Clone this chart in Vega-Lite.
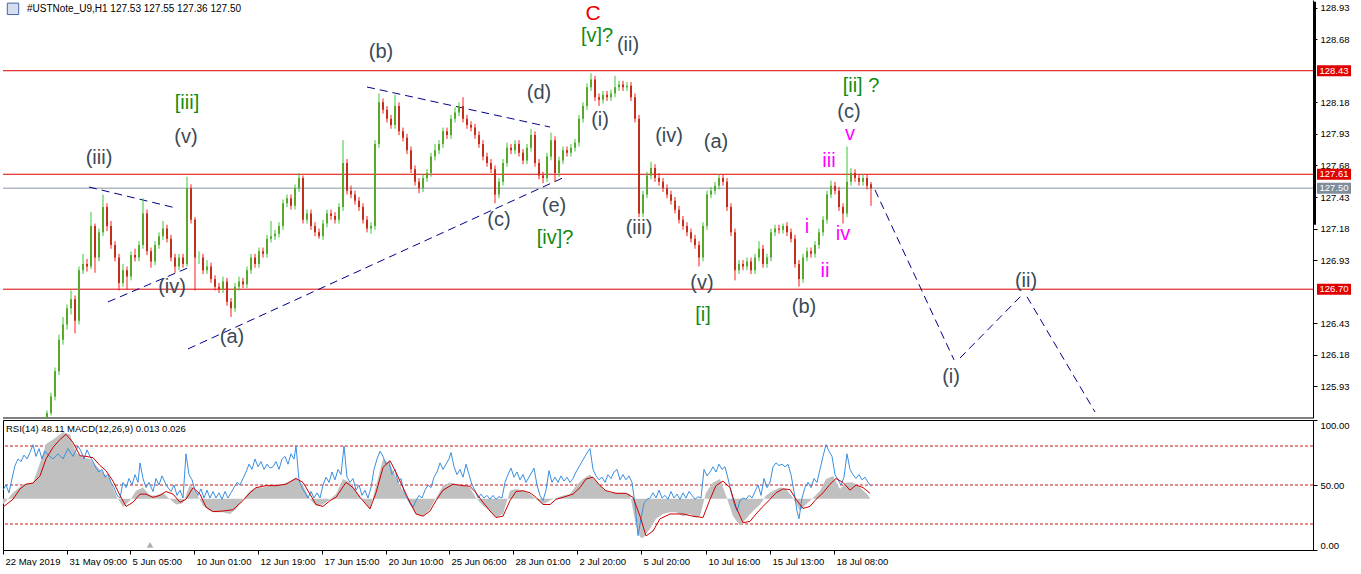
{
"$schema": "https://vega.github.io/schema/vega-lite/v6.json",
"padding": 0,
"background": "white",
"spacing": 0,
"config": {"font": "Liberation Sans", "view": {"stroke": null}, "axis": {"labelFont": "Liberation Sans", "labelFontSize": 9.5, "labelColor": "black", "domainColor": "black", "tickColor": "black", "grid": false, "title": null}},
"resolve": {"scale": {"x": "independent", "y": "independent"}},
"datasets": {
"levels": [{"p":128.43,"k":"r"},{"p":127.61,"k":"r"},{"p":126.70,"k":"r"},{"p":127.50,"k":"g"}],
"trend": [
{"b1":86,"p1":127.509,"b2":173,"p2":127.343},
{"b1":105,"p1":126.599,"b2":187,"p2":126.876},
{"b1":185,"p1":126.227,"b2":562,"p2":127.589},
{"b1":364,"p1":128.301,"b2":547,"p2":127.984},
{"b1":872,"p1":127.486,"b2":951,"p2":126.140},
{"b1":957,"p1":126.155,"b2":1018,"p2":126.646},
{"b1":1024,"p1":126.640,"b2":1092,"p2":125.728}
],
"candles": [
{"b":44,"o":125.68,"h":125.74,"l":125.68,"c":125.72},
{"b":48,"o":125.72,"h":125.88,"l":125.70,"c":125.85},
{"b":52,"o":125.85,"h":126.08,"l":125.82,"c":126.05},
{"b":56,"o":126.05,"h":126.34,"l":126.02,"c":126.30},
{"b":60,"o":126.30,"h":126.48,"l":126.26,"c":126.42},
{"b":64,"o":126.42,"h":126.58,"l":126.38,"c":126.55},
{"b":68,"o":126.55,"h":126.69,"l":126.50,"c":126.62},
{"b":72,"o":126.62,"h":126.65,"l":126.35,"c":126.45},
{"b":76,"o":126.45,"h":126.88,"l":126.42,"c":126.85},
{"b":80,"o":126.85,"h":126.98,"l":126.82,"c":126.90},
{"b":84,"o":126.90,"h":126.94,"l":126.84,"c":126.88},
{"b":88,"o":126.88,"h":127.31,"l":126.86,"c":127.20},
{"b":92,"o":127.20,"h":127.22,"l":126.83,"c":126.95},
{"b":96,"o":126.95,"h":127.18,"l":126.92,"c":127.15},
{"b":100,"o":127.15,"h":127.45,"l":127.12,"c":127.35},
{"b":104,"o":127.35,"h":127.38,"l":127.16,"c":127.20},
{"b":108,"o":127.20,"h":127.24,"l":127.02,"c":127.05},
{"b":112,"o":127.05,"h":127.08,"l":126.92,"c":126.95},
{"b":116,"o":126.95,"h":126.98,"l":126.69,"c":126.75},
{"b":120,"o":126.75,"h":126.90,"l":126.72,"c":126.85},
{"b":124,"o":126.85,"h":126.88,"l":126.70,"c":126.80},
{"b":128,"o":126.80,"h":127.00,"l":126.77,"c":126.97},
{"b":132,"o":126.97,"h":127.02,"l":126.92,"c":126.95},
{"b":136,"o":126.95,"h":127.08,"l":126.92,"c":127.05},
{"b":140,"o":127.05,"h":127.42,"l":127.02,"c":127.30},
{"b":144,"o":127.30,"h":127.33,"l":126.97,"c":127.00},
{"b":148,"o":127.00,"h":127.03,"l":126.87,"c":126.92},
{"b":152,"o":126.92,"h":127.08,"l":126.89,"c":127.05},
{"b":156,"o":127.05,"h":127.15,"l":127.02,"c":127.12},
{"b":160,"o":127.12,"h":127.24,"l":127.09,"c":127.18},
{"b":164,"o":127.18,"h":127.21,"l":127.07,"c":127.10},
{"b":168,"o":127.10,"h":127.13,"l":126.92,"c":126.95},
{"b":172,"o":126.95,"h":126.98,"l":126.83,"c":126.88},
{"b":176,"o":126.88,"h":126.98,"l":126.85,"c":126.95},
{"b":180,"o":126.95,"h":126.98,"l":126.87,"c":126.90},
{"b":184,"o":126.90,"h":127.59,"l":126.88,"c":127.50},
{"b":188,"o":127.50,"h":127.53,"l":127.22,"c":127.25},
{"b":192,"o":127.25,"h":127.27,"l":126.69,"c":126.95},
{"b":196,"o":126.95,"h":127.00,"l":126.90,"c":126.95},
{"b":200,"o":126.95,"h":126.98,"l":126.82,"c":126.85},
{"b":204,"o":126.85,"h":126.93,"l":126.82,"c":126.88},
{"b":208,"o":126.88,"h":126.91,"l":126.75,"c":126.78},
{"b":212,"o":126.78,"h":126.81,"l":126.69,"c":126.72},
{"b":216,"o":126.72,"h":126.75,"l":126.67,"c":126.70},
{"b":220,"o":126.70,"h":126.80,"l":126.67,"c":126.76},
{"b":224,"o":126.76,"h":126.79,"l":126.57,"c":126.60},
{"b":228,"o":126.60,"h":126.63,"l":126.48,"c":126.55},
{"b":232,"o":126.55,"h":126.75,"l":126.52,"c":126.72},
{"b":236,"o":126.72,"h":126.80,"l":126.69,"c":126.76},
{"b":240,"o":126.76,"h":126.79,"l":126.71,"c":126.74},
{"b":244,"o":126.74,"h":126.88,"l":126.71,"c":126.85},
{"b":248,"o":126.85,"h":126.98,"l":126.82,"c":126.95},
{"b":252,"o":126.95,"h":126.98,"l":126.87,"c":126.90},
{"b":256,"o":126.90,"h":127.03,"l":126.87,"c":127.00},
{"b":260,"o":127.00,"h":127.03,"l":126.95,"c":126.98},
{"b":264,"o":126.98,"h":127.13,"l":126.95,"c":127.10},
{"b":268,"o":127.10,"h":127.24,"l":127.07,"c":127.12},
{"b":272,"o":127.12,"h":127.17,"l":127.09,"c":127.14},
{"b":276,"o":127.14,"h":127.23,"l":127.11,"c":127.20},
{"b":280,"o":127.20,"h":127.41,"l":127.17,"c":127.38},
{"b":284,"o":127.38,"h":127.45,"l":127.35,"c":127.42},
{"b":288,"o":127.42,"h":127.45,"l":127.33,"c":127.36},
{"b":292,"o":127.36,"h":127.53,"l":127.33,"c":127.50},
{"b":296,"o":127.50,"h":127.62,"l":127.47,"c":127.58},
{"b":300,"o":127.58,"h":127.60,"l":127.22,"c":127.25},
{"b":304,"o":127.25,"h":127.33,"l":127.22,"c":127.30},
{"b":308,"o":127.30,"h":127.33,"l":127.17,"c":127.20},
{"b":312,"o":127.20,"h":127.23,"l":127.12,"c":127.15},
{"b":316,"o":127.15,"h":127.18,"l":127.10,"c":127.12},
{"b":320,"o":127.12,"h":127.25,"l":127.09,"c":127.22},
{"b":324,"o":127.22,"h":127.33,"l":127.19,"c":127.30},
{"b":328,"o":127.30,"h":127.33,"l":127.25,"c":127.28},
{"b":332,"o":127.28,"h":127.31,"l":127.22,"c":127.25},
{"b":336,"o":127.25,"h":127.38,"l":127.22,"c":127.35},
{"b":340,"o":127.35,"h":127.88,"l":127.32,"c":127.70},
{"b":344,"o":127.70,"h":127.73,"l":127.45,"c":127.48},
{"b":348,"o":127.48,"h":127.52,"l":127.42,"c":127.45},
{"b":352,"o":127.45,"h":127.48,"l":127.37,"c":127.40},
{"b":356,"o":127.40,"h":127.43,"l":127.32,"c":127.35},
{"b":360,"o":127.35,"h":127.38,"l":127.22,"c":127.25},
{"b":364,"o":127.25,"h":127.28,"l":127.15,"c":127.18},
{"b":368,"o":127.18,"h":127.23,"l":127.14,"c":127.20},
{"b":372,"o":127.20,"h":127.88,"l":127.17,"c":127.85},
{"b":376,"o":127.85,"h":128.25,"l":127.82,"c":128.18},
{"b":380,"o":128.18,"h":128.21,"l":128.09,"c":128.12},
{"b":384,"o":128.12,"h":128.15,"l":128.02,"c":128.05},
{"b":388,"o":128.05,"h":128.08,"l":127.97,"c":128.00},
{"b":392,"o":128.00,"h":128.24,"l":127.97,"c":128.15},
{"b":396,"o":128.15,"h":128.18,"l":127.92,"c":127.95},
{"b":400,"o":127.95,"h":127.98,"l":127.87,"c":127.90},
{"b":404,"o":127.90,"h":127.93,"l":127.77,"c":127.80},
{"b":408,"o":127.80,"h":127.83,"l":127.62,"c":127.65},
{"b":412,"o":127.65,"h":127.68,"l":127.52,"c":127.55},
{"b":416,"o":127.55,"h":127.58,"l":127.46,"c":127.50},
{"b":420,"o":127.50,"h":127.61,"l":127.47,"c":127.58},
{"b":424,"o":127.58,"h":127.65,"l":127.55,"c":127.62},
{"b":428,"o":127.62,"h":127.78,"l":127.59,"c":127.75},
{"b":432,"o":127.75,"h":127.85,"l":127.72,"c":127.80},
{"b":436,"o":127.80,"h":127.88,"l":127.77,"c":127.85},
{"b":440,"o":127.85,"h":127.98,"l":127.82,"c":127.95},
{"b":444,"o":127.95,"h":127.98,"l":127.89,"c":127.92},
{"b":448,"o":127.92,"h":128.08,"l":127.89,"c":128.05},
{"b":452,"o":128.05,"h":128.14,"l":128.02,"c":128.10},
{"b":456,"o":128.10,"h":128.18,"l":128.07,"c":128.15},
{"b":460,"o":128.15,"h":128.22,"l":128.02,"c":128.05},
{"b":464,"o":128.05,"h":128.08,"l":127.97,"c":128.00},
{"b":468,"o":128.00,"h":128.03,"l":127.95,"c":127.98},
{"b":472,"o":127.98,"h":128.01,"l":127.89,"c":127.92},
{"b":476,"o":127.92,"h":127.95,"l":127.82,"c":127.85},
{"b":480,"o":127.85,"h":127.88,"l":127.72,"c":127.75},
{"b":484,"o":127.75,"h":127.78,"l":127.67,"c":127.70},
{"b":488,"o":127.70,"h":127.73,"l":127.62,"c":127.65},
{"b":492,"o":127.65,"h":127.68,"l":127.38,"c":127.45},
{"b":496,"o":127.45,"h":127.58,"l":127.42,"c":127.55},
{"b":500,"o":127.55,"h":127.73,"l":127.52,"c":127.70},
{"b":504,"o":127.70,"h":127.86,"l":127.67,"c":127.82},
{"b":508,"o":127.82,"h":127.85,"l":127.77,"c":127.80},
{"b":512,"o":127.80,"h":127.88,"l":127.77,"c":127.85},
{"b":516,"o":127.85,"h":127.88,"l":127.75,"c":127.78},
{"b":520,"o":127.78,"h":127.81,"l":127.69,"c":127.72},
{"b":524,"o":127.72,"h":127.85,"l":127.69,"c":127.82},
{"b":528,"o":127.82,"h":127.97,"l":127.79,"c":127.92},
{"b":532,"o":127.92,"h":127.95,"l":127.67,"c":127.70},
{"b":536,"o":127.70,"h":127.73,"l":127.57,"c":127.60},
{"b":540,"o":127.60,"h":127.63,"l":127.54,"c":127.58},
{"b":544,"o":127.58,"h":127.78,"l":127.55,"c":127.75},
{"b":548,"o":127.75,"h":127.94,"l":127.72,"c":127.88},
{"b":552,"o":127.88,"h":127.91,"l":127.55,"c":127.62},
{"b":556,"o":127.62,"h":127.75,"l":127.59,"c":127.72},
{"b":560,"o":127.72,"h":127.83,"l":127.69,"c":127.80},
{"b":564,"o":127.80,"h":127.83,"l":127.75,"c":127.78},
{"b":568,"o":127.78,"h":127.85,"l":127.75,"c":127.82},
{"b":572,"o":127.82,"h":127.89,"l":127.79,"c":127.86},
{"b":576,"o":127.86,"h":128.08,"l":127.83,"c":128.05},
{"b":580,"o":128.05,"h":128.18,"l":128.02,"c":128.15},
{"b":584,"o":128.15,"h":128.33,"l":128.12,"c":128.30},
{"b":588,"o":128.30,"h":128.41,"l":128.27,"c":128.36},
{"b":592,"o":128.36,"h":128.39,"l":128.19,"c":128.22},
{"b":596,"o":128.22,"h":128.25,"l":128.15,"c":128.20},
{"b":600,"o":128.20,"h":128.27,"l":128.17,"c":128.24},
{"b":604,"o":128.24,"h":128.27,"l":128.19,"c":128.22},
{"b":608,"o":128.22,"h":128.28,"l":128.19,"c":128.25},
{"b":612,"o":128.25,"h":128.39,"l":128.22,"c":128.30},
{"b":616,"o":128.30,"h":128.35,"l":128.27,"c":128.32},
{"b":620,"o":128.32,"h":128.35,"l":128.27,"c":128.30},
{"b":624,"o":128.30,"h":128.34,"l":128.27,"c":128.31},
{"b":628,"o":128.31,"h":128.34,"l":128.19,"c":128.22},
{"b":632,"o":128.22,"h":128.25,"l":128.02,"c":128.05},
{"b":636,"o":128.05,"h":128.08,"l":127.27,"c":127.30},
{"b":640,"o":127.30,"h":127.48,"l":127.27,"c":127.45},
{"b":644,"o":127.45,"h":127.63,"l":127.42,"c":127.60},
{"b":648,"o":127.60,"h":127.71,"l":127.57,"c":127.66},
{"b":652,"o":127.66,"h":127.69,"l":127.55,"c":127.58},
{"b":656,"o":127.58,"h":127.62,"l":127.52,"c":127.55},
{"b":660,"o":127.55,"h":127.58,"l":127.47,"c":127.50},
{"b":664,"o":127.50,"h":127.53,"l":127.42,"c":127.45},
{"b":668,"o":127.45,"h":127.48,"l":127.37,"c":127.40},
{"b":672,"o":127.40,"h":127.43,"l":127.30,"c":127.33},
{"b":676,"o":127.33,"h":127.36,"l":127.22,"c":127.25},
{"b":680,"o":127.25,"h":127.28,"l":127.17,"c":127.20},
{"b":684,"o":127.20,"h":127.23,"l":127.12,"c":127.15},
{"b":688,"o":127.15,"h":127.18,"l":127.07,"c":127.10},
{"b":692,"o":127.10,"h":127.13,"l":127.02,"c":127.05},
{"b":696,"o":127.05,"h":127.08,"l":126.88,"c":126.95},
{"b":700,"o":126.95,"h":127.23,"l":126.92,"c":127.20},
{"b":704,"o":127.20,"h":127.48,"l":127.17,"c":127.45},
{"b":708,"o":127.45,"h":127.51,"l":127.42,"c":127.48},
{"b":712,"o":127.48,"h":127.55,"l":127.45,"c":127.52},
{"b":716,"o":127.52,"h":127.61,"l":127.49,"c":127.58},
{"b":720,"o":127.58,"h":127.61,"l":127.52,"c":127.55},
{"b":724,"o":127.55,"h":127.58,"l":127.32,"c":127.35},
{"b":728,"o":127.35,"h":127.38,"l":127.12,"c":127.15},
{"b":732,"o":127.15,"h":127.18,"l":126.77,"c":126.85},
{"b":736,"o":126.85,"h":126.93,"l":126.82,"c":126.90},
{"b":740,"o":126.90,"h":126.93,"l":126.85,"c":126.88},
{"b":744,"o":126.88,"h":126.95,"l":126.85,"c":126.92},
{"b":748,"o":126.92,"h":126.95,"l":126.82,"c":126.85},
{"b":752,"o":126.85,"h":126.98,"l":126.82,"c":126.95},
{"b":756,"o":126.95,"h":127.08,"l":126.92,"c":127.02},
{"b":760,"o":127.02,"h":127.05,"l":126.87,"c":126.90},
{"b":764,"o":126.90,"h":126.98,"l":126.87,"c":126.95},
{"b":768,"o":126.95,"h":127.18,"l":126.92,"c":127.15},
{"b":772,"o":127.15,"h":127.21,"l":127.12,"c":127.18},
{"b":776,"o":127.18,"h":127.21,"l":127.14,"c":127.17},
{"b":780,"o":127.17,"h":127.22,"l":127.14,"c":127.20},
{"b":784,"o":127.20,"h":127.23,"l":127.12,"c":127.15},
{"b":788,"o":127.15,"h":127.18,"l":127.07,"c":127.10},
{"b":792,"o":127.10,"h":127.13,"l":126.87,"c":126.90},
{"b":796,"o":126.90,"h":126.93,"l":126.72,"c":126.78},
{"b":800,"o":126.78,"h":126.98,"l":126.75,"c":126.95},
{"b":804,"o":126.95,"h":127.03,"l":126.92,"c":127.00},
{"b":808,"o":127.00,"h":127.03,"l":126.95,"c":126.98},
{"b":812,"o":126.98,"h":127.08,"l":126.95,"c":127.05},
{"b":816,"o":127.05,"h":127.18,"l":127.02,"c":127.15},
{"b":820,"o":127.15,"h":127.28,"l":127.12,"c":127.25},
{"b":824,"o":127.25,"h":127.48,"l":127.22,"c":127.45},
{"b":828,"o":127.45,"h":127.56,"l":127.42,"c":127.52},
{"b":832,"o":127.52,"h":127.55,"l":127.45,"c":127.48},
{"b":836,"o":127.48,"h":127.51,"l":127.32,"c":127.35},
{"b":840,"o":127.35,"h":127.38,"l":127.22,"c":127.30},
{"b":844,"o":127.30,"h":127.83,"l":127.27,"c":127.55},
{"b":848,"o":127.55,"h":127.66,"l":127.52,"c":127.62},
{"b":852,"o":127.62,"h":127.65,"l":127.55,"c":127.58},
{"b":856,"o":127.58,"h":127.61,"l":127.52,"c":127.55},
{"b":860,"o":127.55,"h":127.61,"l":127.52,"c":127.58},
{"b":864,"o":127.58,"h":127.61,"l":127.49,"c":127.52},
{"b":868,"o":127.53,"h":127.55,"l":127.36,"c":127.50}
],
"labels": [
{"b":96,"p":127.691,"t":"(iii)","g":"s"},
{"b":184,"p":128.127,"t":"[iii]","g":"g"},
{"b":183,"p":127.858,"t":"(v)","g":"s"},
{"b":169,"p":126.670,"t":"(iv)","g":"s"},
{"b":229,"p":126.274,"t":"(a)","g":"s"},
{"b":378,"p":128.531,"t":"(b)","g":"s"},
{"b":536,"p":128.206,"t":"(d)","g":"s"},
{"b":496,"p":127.201,"t":"(c)","g":"s"},
{"b":551,"p":127.311,"t":"(e)","g":"s"},
{"b":552,"p":127.058,"t":"[iv]?","g":"g"},
{"b":594,"p":128.657,"t":"[v]?","g":"g"},
{"b":625,"p":128.586,"t":"(ii)","g":"s"},
{"b":597,"p":127.992,"t":"(i)","g":"s"},
{"b":636,"p":127.137,"t":"(iii)","g":"s"},
{"b":666,"p":127.866,"t":"(iv)","g":"s"},
{"b":713,"p":127.818,"t":"(a)","g":"s"},
{"b":699,"p":126.702,"t":"(v)","g":"s"},
{"b":700,"p":126.448,"t":"[i]","g":"g"},
{"b":801,"p":126.512,"t":"(b)","g":"s"},
{"b":858,"p":128.262,"t":"[ii] ?","g":"g"},
{"b":846,"p":128.056,"t":"(c)","g":"s"},
{"b":847,"p":127.882,"t":"v","g":"m"},
{"b":826,"p":127.668,"t":"iii","g":"m"},
{"b":804,"p":127.145,"t":"i","g":"m"},
{"b":840,"p":127.090,"t":"iv","g":"m"},
{"b":822,"p":126.797,"t":"ii","g":"m"},
{"b":948,"p":125.958,"t":"(i)","g":"s"},
{"b":1023,"p":126.718,"t":"(ii)","g":"s"}
],
"hist": [
{"b":0,"v":35},{"b":10,"v":44},{"b":20,"v":50.6},{"b":30,"v":52},{"b":37,"v":67},{"b":43,"v":81.5},{"b":50,"v":85},{"b":60,"v":90.5},{"b":67,"v":89},{"b":73,"v":75},{"b":80,"v":71},{"b":87,"v":70},{"b":93,"v":65},{"b":100,"v":59.7},{"b":107,"v":54.6},{"b":113,"v":42},{"b":120,"v":33},{"b":127,"v":38},{"b":133,"v":45.6},{"b":140,"v":48},{"b":147,"v":42},{"b":153,"v":42},{"b":160,"v":44},{"b":167,"v":39},{"b":173,"v":35},{"b":180,"v":36},{"b":187,"v":50.6},{"b":193,"v":44},{"b":200,"v":34},{"b":207,"v":30},{"b":213,"v":29},{"b":220,"v":29},{"b":227,"v":27.7},{"b":233,"v":31.6},{"b":240,"v":39},{"b":247,"v":45.6},{"b":253,"v":48},{"b":260,"v":48},{"b":267,"v":49.5},{"b":273,"v":50.6},{"b":280,"v":50.6},{"b":287,"v":53},{"b":293,"v":55.9},{"b":300,"v":49.5},{"b":307,"v":39},{"b":313,"v":34},{"b":320,"v":35},{"b":327,"v":39},{"b":333,"v":43},{"b":340,"v":54.6},{"b":347,"v":52},{"b":353,"v":45.6},{"b":360,"v":38},{"b":367,"v":31.6},{"b":373,"v":49.5},{"b":380,"v":70},{"b":387,"v":66},{"b":393,"v":56},{"b":400,"v":45.6},{"b":407,"v":35},{"b":413,"v":27.7},{"b":420,"v":26},{"b":427,"v":31.6},{"b":433,"v":40},{"b":440,"v":49.5},{"b":447,"v":52},{"b":453,"v":50.6},{"b":460,"v":49.5},{"b":467,"v":48},{"b":473,"v":40},{"b":480,"v":34},{"b":487,"v":30},{"b":493,"v":25},{"b":500,"v":27.7},{"b":507,"v":45.6},{"b":513,"v":47},{"b":520,"v":45.6},{"b":527,"v":43},{"b":533,"v":39},{"b":540,"v":35},{"b":547,"v":38},{"b":553,"v":40},{"b":560,"v":42},{"b":567,"v":43},{"b":573,"v":49.5},{"b":580,"v":54.6},{"b":587,"v":58},{"b":593,"v":53},{"b":600,"v":47},{"b":607,"v":44},{"b":613,"v":44},{"b":620,"v":44},{"b":627,"v":43},{"b":633,"v":18.8},{"b":637,"v":10},{"b":640,"v":9},{"b":647,"v":16.4},{"b":653,"v":24},{"b":660,"v":27.7},{"b":667,"v":29},{"b":673,"v":29},{"b":680,"v":26},{"b":687,"v":27.7},{"b":693,"v":25},{"b":697,"v":26},{"b":703,"v":44},{"b":710,"v":52},{"b":717,"v":54.6},{"b":723,"v":42},{"b":730,"v":26},{"b":737,"v":18.8},{"b":743,"v":24},{"b":750,"v":30},{"b":757,"v":35},{"b":763,"v":42},{"b":770,"v":45.6},{"b":777,"v":48},{"b":783,"v":47},{"b":790,"v":40},{"b":797,"v":30},{"b":803,"v":35},{"b":810,"v":40},{"b":817,"v":45.6},{"b":823,"v":54.6},{"b":830,"v":57},{"b":837,"v":47},{"b":843,"v":52},{"b":850,"v":52},{"b":857,"v":48},{"b":864,"v":43},{"b":867,"v":40}
],
"sig": [
{"b":0,"v":33},{"b":10,"v":39},{"b":17,"v":47},{"b":23,"v":50.6},{"b":30,"v":51.5},{"b":37,"v":57},{"b":43,"v":70},{"b":50,"v":79},{"b":57,"v":85},{"b":63,"v":89},{"b":70,"v":82.8},{"b":77,"v":72.5},{"b":83,"v":72},{"b":90,"v":71},{"b":97,"v":65},{"b":103,"v":61},{"b":110,"v":53},{"b":117,"v":42},{"b":123,"v":33.5},{"b":130,"v":36.7},{"b":137,"v":43},{"b":143,"v":43},{"b":150,"v":40.5},{"b":157,"v":42},{"b":163,"v":45},{"b":170,"v":43},{"b":177,"v":36.7},{"b":183,"v":39},{"b":190,"v":48},{"b":197,"v":43},{"b":203,"v":33},{"b":210,"v":29.5},{"b":220,"v":30},{"b":230,"v":31},{"b":240,"v":38},{"b":247,"v":44},{"b":253,"v":48},{"b":263,"v":49.5},{"b":273,"v":49.5},{"b":283,"v":50.6},{"b":293,"v":55},{"b":300,"v":52},{"b":307,"v":43},{"b":313,"v":35},{"b":320,"v":33.5},{"b":327,"v":38},{"b":333,"v":40.5},{"b":343,"v":52},{"b":350,"v":48},{"b":357,"v":40.5},{"b":367,"v":31.6},{"b":373,"v":44},{"b":380,"v":63.5},{"b":387,"v":68.7},{"b":393,"v":59.7},{"b":400,"v":48},{"b":407,"v":36.7},{"b":413,"v":27.7},{"b":420,"v":26},{"b":427,"v":30},{"b":433,"v":38},{"b":440,"v":46},{"b":450,"v":50.6},{"b":460,"v":49.5},{"b":467,"v":49},{"b":473,"v":44},{"b":480,"v":36.7},{"b":487,"v":30},{"b":493,"v":25},{"b":500,"v":26},{"b":507,"v":38},{"b":513,"v":45},{"b":520,"v":45.6},{"b":527,"v":44},{"b":533,"v":40.5},{"b":540,"v":35},{"b":547,"v":35},{"b":553,"v":39},{"b":560,"v":40.5},{"b":570,"v":43},{"b":577,"v":48},{"b":583,"v":54.6},{"b":590,"v":56},{"b":597,"v":49.5},{"b":603,"v":45.6},{"b":613,"v":43.6},{"b":623,"v":43.6},{"b":630,"v":40.5},{"b":637,"v":26},{"b":643,"v":10.8},{"b":650,"v":14.6},{"b":657,"v":24},{"b":667,"v":27.7},{"b":680,"v":27.7},{"b":690,"v":26},{"b":700,"v":25},{"b":707,"v":39},{"b":713,"v":49.5},{"b":720,"v":53},{"b":727,"v":48},{"b":733,"v":33},{"b":740,"v":21},{"b":747,"v":22},{"b":753,"v":27.7},{"b":760,"v":33.5},{"b":767,"v":39},{"b":773,"v":44},{"b":780,"v":47},{"b":787,"v":46.5},{"b":793,"v":39},{"b":800,"v":32},{"b":807,"v":33.5},{"b":813,"v":39},{"b":820,"v":44},{"b":827,"v":50.6},{"b":833,"v":55},{"b":840,"v":52},{"b":847,"v":46},{"b":853,"v":50},{"b":860,"v":48},{"b":867,"v":43.6}
],
"rsi": [
{"b":0,"v":46},{"b":3,"v":50},{"b":6,"v":44},{"b":9,"v":55},{"b":12,"v":65},{"b":15,"v":70},{"b":18,"v":68},{"b":21,"v":73},{"b":24,"v":70},{"b":27,"v":75},{"b":30,"v":81},{"b":33,"v":72},{"b":36,"v":78},{"b":39,"v":70},{"b":42,"v":76},{"b":45,"v":73},{"b":50,"v":70},{"b":55,"v":74},{"b":60,"v":70},{"b":65,"v":78},{"b":70,"v":72},{"b":75,"v":80},{"b":78,"v":76},{"b":81,"v":70},{"b":84,"v":77},{"b":87,"v":72},{"b":90,"v":68},{"b":93,"v":63},{"b":96,"v":60},{"b":99,"v":62},{"b":102,"v":56},{"b":105,"v":58},{"b":108,"v":52},{"b":111,"v":48},{"b":114,"v":42},{"b":117,"v":40},{"b":120,"v":52},{"b":123,"v":48},{"b":126,"v":55},{"b":129,"v":50},{"b":132,"v":58},{"b":135,"v":52},{"b":137,"v":67},{"b":140,"v":55},{"b":143,"v":48},{"b":146,"v":52},{"b":150,"v":45},{"b":153,"v":55},{"b":156,"v":50},{"b":159,"v":57},{"b":162,"v":52},{"b":165,"v":48},{"b":168,"v":45},{"b":171,"v":50},{"b":174,"v":42},{"b":177,"v":46},{"b":180,"v":40},{"b":183,"v":74},{"b":186,"v":58},{"b":189,"v":54},{"b":192,"v":46},{"b":195,"v":42},{"b":198,"v":47},{"b":201,"v":40},{"b":204,"v":46},{"b":207,"v":40},{"b":210,"v":45},{"b":213,"v":40},{"b":216,"v":44},{"b":219,"v":39},{"b":222,"v":45},{"b":225,"v":40},{"b":228,"v":44},{"b":231,"v":48},{"b":234,"v":52},{"b":237,"v":50},{"b":240,"v":55},{"b":243,"v":60},{"b":246,"v":66},{"b":249,"v":62},{"b":252,"v":70},{"b":255,"v":64},{"b":258,"v":68},{"b":261,"v":62},{"b":264,"v":66},{"b":267,"v":63},{"b":270,"v":64},{"b":273,"v":68},{"b":276,"v":62},{"b":279,"v":70},{"b":282,"v":72},{"b":285,"v":66},{"b":288,"v":74},{"b":291,"v":70},{"b":293,"v":80},{"b":296,"v":54},{"b":299,"v":48},{"b":302,"v":44},{"b":305,"v":40},{"b":308,"v":45},{"b":311,"v":40},{"b":314,"v":44},{"b":317,"v":40},{"b":320,"v":50},{"b":323,"v":56},{"b":326,"v":52},{"b":329,"v":60},{"b":332,"v":54},{"b":335,"v":62},{"b":338,"v":58},{"b":341,"v":80},{"b":344,"v":56},{"b":347,"v":52},{"b":350,"v":55},{"b":353,"v":46},{"b":356,"v":50},{"b":359,"v":42},{"b":362,"v":46},{"b":365,"v":40},{"b":368,"v":48},{"b":371,"v":62},{"b":374,"v":70},{"b":377,"v":76},{"b":380,"v":72},{"b":383,"v":66},{"b":386,"v":68},{"b":389,"v":58},{"b":392,"v":62},{"b":395,"v":52},{"b":398,"v":55},{"b":401,"v":45},{"b":404,"v":40},{"b":407,"v":36},{"b":410,"v":33},{"b":413,"v":38},{"b":416,"v":42},{"b":419,"v":40},{"b":422,"v":46},{"b":425,"v":50},{"b":428,"v":48},{"b":431,"v":56},{"b":434,"v":60},{"b":437,"v":67},{"b":440,"v":62},{"b":443,"v":66},{"b":446,"v":70},{"b":448,"v":75},{"b":451,"v":64},{"b":454,"v":58},{"b":457,"v":62},{"b":460,"v":56},{"b":463,"v":66},{"b":466,"v":58},{"b":469,"v":50},{"b":472,"v":46},{"b":475,"v":40},{"b":478,"v":43},{"b":481,"v":40},{"b":484,"v":42},{"b":487,"v":39},{"b":490,"v":42},{"b":493,"v":39},{"b":496,"v":41},{"b":499,"v":40},{"b":502,"v":52},{"b":505,"v":58},{"b":508,"v":63},{"b":511,"v":56},{"b":514,"v":60},{"b":517,"v":54},{"b":520,"v":58},{"b":523,"v":52},{"b":526,"v":56},{"b":529,"v":60},{"b":531,"v":63},{"b":534,"v":50},{"b":537,"v":42},{"b":540,"v":38},{"b":543,"v":46},{"b":546,"v":61},{"b":549,"v":52},{"b":552,"v":56},{"b":555,"v":52},{"b":558,"v":57},{"b":561,"v":53},{"b":564,"v":56},{"b":567,"v":52},{"b":570,"v":55},{"b":573,"v":60},{"b":576,"v":64},{"b":579,"v":68},{"b":582,"v":72},{"b":585,"v":76},{"b":587,"v":78},{"b":590,"v":62},{"b":593,"v":57},{"b":596,"v":54},{"b":599,"v":56},{"b":602,"v":52},{"b":605,"v":58},{"b":608,"v":55},{"b":611,"v":60},{"b":614,"v":62},{"b":617,"v":54},{"b":620,"v":58},{"b":623,"v":54},{"b":626,"v":57},{"b":629,"v":52},{"b":632,"v":35},{"b":635,"v":11},{"b":638,"v":24},{"b":641,"v":36},{"b":644,"v":39},{"b":647,"v":40},{"b":650,"v":44},{"b":653,"v":40},{"b":656,"v":46},{"b":659,"v":40},{"b":662,"v":42},{"b":665,"v":39},{"b":668,"v":45},{"b":671,"v":40},{"b":674,"v":43},{"b":677,"v":39},{"b":680,"v":44},{"b":683,"v":40},{"b":686,"v":45},{"b":689,"v":42},{"b":692,"v":39},{"b":695,"v":41},{"b":698,"v":40},{"b":701,"v":62},{"b":704,"v":57},{"b":707,"v":60},{"b":710,"v":64},{"b":713,"v":60},{"b":716,"v":66},{"b":719,"v":62},{"b":722,"v":64},{"b":725,"v":55},{"b":728,"v":45},{"b":731,"v":36},{"b":734,"v":30},{"b":737,"v":38},{"b":740,"v":40},{"b":743,"v":39},{"b":746,"v":42},{"b":749,"v":40},{"b":752,"v":45},{"b":755,"v":50},{"b":758,"v":42},{"b":761,"v":55},{"b":764,"v":48},{"b":767,"v":52},{"b":770,"v":64},{"b":773,"v":67},{"b":776,"v":65},{"b":779,"v":66},{"b":782,"v":64},{"b":785,"v":66},{"b":788,"v":58},{"b":791,"v":45},{"b":794,"v":30},{"b":796,"v":24},{"b":799,"v":40},{"b":802,"v":48},{"b":805,"v":52},{"b":808,"v":48},{"b":811,"v":55},{"b":814,"v":52},{"b":817,"v":62},{"b":820,"v":72},{"b":823,"v":81},{"b":826,"v":76},{"b":829,"v":72},{"b":832,"v":58},{"b":835,"v":54},{"b":838,"v":50},{"b":841,"v":56},{"b":844,"v":74},{"b":847,"v":62},{"b":850,"v":58},{"b":853,"v":55},{"b":856,"v":58},{"b":859,"v":54},{"b":862,"v":56},{"b":865,"v":52},{"b":868,"v":49}
]
},
"vconcat": [
{
"width": 1310, "height": 418,
"layer": [
{"data": {"name": "levels"}, "mark": {"type": "rule", "strokeWidth": 1},
 "encoding": {
  "y": {"field": "p", "type": "quantitative", "title": null, "scale": {"domain": [125.68, 128.99], "nice": false, "zero": false},
        "axis": {"orient": "right", "values": [125.93,126.18,126.43,126.93,127.18,127.43,127.68,127.93,128.18,128.68,128.93], "format": ".2f", "tickSize": 4, "labelPadding": 3, "labelBaseline": "middle"}},
  "color": {"condition": {"test": "datum.k == 'g'", "value": "#8a97a4"}, "value": "#dd0000"}}},
{"data": {"values": [{"p": 125.68}]}, "mark": {"type": "rule", "strokeWidth": 1, "color": "black"},
 "encoding": {"y": {"field": "p", "type": "quantitative", "title": null}}},
{"data": {"name": "trend"}, "mark": {"type": "rule", "strokeDash": [8, 5], "color": "#00008b", "strokeWidth": 1},
 "encoding": {"x": {"field": "b1", "type": "quantitative", "title": null}, "x2": {"field": "b2"}, "y": {"field": "p1", "type": "quantitative", "title": null}, "y2": {"field": "p2"}}},
{"data": {"name": "candles"}, "mark": {"type": "rule", "clip": true, "strokeWidth": 1},
 "encoding": {
  "x": {"field": "b", "type": "quantitative", "title": null, "scale": {"domain": [0, 1310], "nice": false, "zero": false}, "axis": null},
  "y": {"field": "l", "type": "quantitative", "title": null}, "y2": {"field": "h"},
  "color": {"condition": {"test": "datum.c >= datum.o", "value": "#38c838"}, "value": "#ff1a1a"}}},
{"data": {"name": "candles"}, "mark": {"type": "rule", "clip": true, "strokeWidth": 2},
 "encoding": {
  "x": {"field": "b", "type": "quantitative", "title": null},
  "y": {"field": "o", "type": "quantitative", "title": null}, "y2": {"field": "c"},
  "color": {"condition": {"test": "datum.c >= datum.o", "value": "#5aa82a"}, "value": "#c0301a"}}},
{"data": {"name": "labels"}, "mark": {"type": "text", "align": "center", "baseline": "alphabetic", "font": "Liberation Sans", "fontSize": 20},
 "encoding": {
  "x": {"field": "b", "type": "quantitative", "title": null},
  "y": {"field": "p", "type": "quantitative", "title": null},
  "text": {"field": "t"},
  "color": {"condition": [{"test": "datum.g == 'g'", "value": "#138a13"}, {"test": "datum.g == 'm'", "value": "#ff00ff"}], "value": "#3b4a57"}}},
{"data": {"values": [{"b": 590, "p": 128.966, "t": "C"}]}, "mark": {"type": "text", "align": "center", "baseline": "top", "font": "Liberation Sans", "fontSize": 21, "color": "#ee0000"},
 "encoding": {"x": {"field": "b", "type": "quantitative", "title": null}, "y": {"field": "p", "type": "quantitative", "title": null}, "text": {"field": "t"}}},
{"data": {"name": "levels"}, "mark": {"type": "rule", "strokeWidth": 11, "clip": false},
 "encoding": {
  "x": {"datum": 1314}, "x2": {"datum": 1348},
  "y": {"field": "p", "type": "quantitative", "title": null},
  "color": {"condition": {"test": "datum.k == 'g'", "value": "#7f8c99"}, "value": "#e00000"}}},
{"data": {"name": "levels"}, "mark": {"type": "text", "align": "center", "baseline": "middle", "fontSize": 9.5, "color": "white", "clip": false},
 "encoding": {"x": {"datum": 1331}, "y": {"field": "p", "type": "quantitative", "title": null}, "text": {"field": "p", "format": ".2f"}}},
{"data": {"values": [{"p1": 127.21, "p2": 128.976}]}, "mark": {"type": "rule", "strokeWidth": 3, "color": "black", "clip": false},
 "encoding": {"x": {"datum": 1311.5}, "y": {"field": "p1", "type": "quantitative", "title": null}, "y2": {"field": "p2"}}},
{"data": {"values": [{"b": 10, "p": 128.92}]}, "mark": {"type": "point", "shape": "square", "size": 130, "filled": true, "color": "#d5def0", "stroke": "#4a63a8", "strokeWidth": 1, "opacity": 1},
 "encoding": {"x": {"field": "b", "type": "quantitative", "title": null}, "y": {"field": "p", "type": "quantitative", "title": null}}},
{"data": {"values": [{"t": "#USTNote_U9,H1  127.53 127.55 127.36 127.50", "b": 24, "p": 128.895}]}, "mark": {"type": "text", "align": "left", "baseline": "alphabetic", "fontSize": 10, "color": "black"},
 "encoding": {"x": {"field": "b", "type": "quantitative", "title": null}, "y": {"field": "p", "type": "quantitative", "title": null}, "text": {"field": "t"}}}
]
},
{
"width": 1310, "height": 130,
"view": {"stroke": "black", "strokeWidth": 1},
"layer": [
{"data": {"values": [{"v": 20}, {"v": 50}, {"v": 80}]}, "mark": {"type": "rule", "color": "#c41a1a", "strokeDash": [3, 2], "strokeWidth": 1},
 "encoding": {"y": {"field": "v", "type": "quantitative", "title": null, "scale": {"domain": [0, 100], "nice": false, "zero": false},
   "axis": {"orient": "right", "values": [0, 20, 50, 80, 100], "format": ".2f", "tickSize": 4, "labelPadding": 3, "labelFlush": true}}}},
{"data": {"name": "hist"}, "mark": {"type": "area", "color": "#c0c0c0", "interpolate": "linear"},
 "encoding": {
  "x": {"field": "b", "type": "quantitative", "title": null, "scale": {"domain": [0, 1310], "nice": false, "zero": false},
   "axis": {"values": [0,64,127,191,255,319,383,446,510,574,638,703,767,831], "labelAlign": "left", "labelBaseline": "top", "labelOffset": 2, "labelPadding": 2, "tickSize": 4, "labelOverlap": false, "labelBound": false, "labelFlush": false,
    "labelExpr": "['22 May 2019','31 May 09:00','5 Jun 05:00','10 Jun 01:00','12 Jun 19:00','17 Jun 15:00','20 Jun 10:00','25 Jun 06:00','28 Jun 01:00','2 Jul 20:00','5 Jul 20:00','10 Jul 16:00','15 Jul 13:00','18 Jul 08:00'][indexof([0,64,127,191,255,319,383,446,510,574,638,703,767,831], datum.value)]"}},
  "y": {"field": "v", "type": "quantitative", "title": null}, "y2": {"datum": 39.4}}},
{"data": {"name": "rsi"}, "mark": {"type": "line", "color": "#3a8fe0", "strokeWidth": 1},
 "encoding": {"x": {"field": "b", "type": "quantitative", "title": null}, "y": {"field": "v", "type": "quantitative", "title": null}}},
{"data": {"name": "sig"}, "mark": {"type": "line", "color": "#cc0000", "strokeWidth": 1},
 "encoding": {"x": {"field": "b", "type": "quantitative", "title": null}, "y": {"field": "v", "type": "quantitative", "title": null}}},
{"data": {"values": [{"b": 147, "v": 4}]}, "mark": {"type": "point", "shape": "triangle-up", "size": 45, "filled": true, "color": "#b0b0b0", "opacity": 1},
 "encoding": {"x": {"field": "b", "type": "quantitative", "title": null}, "y": {"field": "v", "type": "quantitative", "title": null}}},
{"data": {"values": [{"t": "RSI(14) 48.11 MACD(12,26,9) 0.013 0.026", "b": 3, "v": 90.8}]}, "mark": {"type": "text", "align": "left", "baseline": "alphabetic", "fontSize": 9.5, "color": "black"},
 "encoding": {"x": {"field": "b", "type": "quantitative", "title": null}, "y": {"field": "v", "type": "quantitative", "title": null}, "text": {"field": "t"}}}
]
}
]
}
